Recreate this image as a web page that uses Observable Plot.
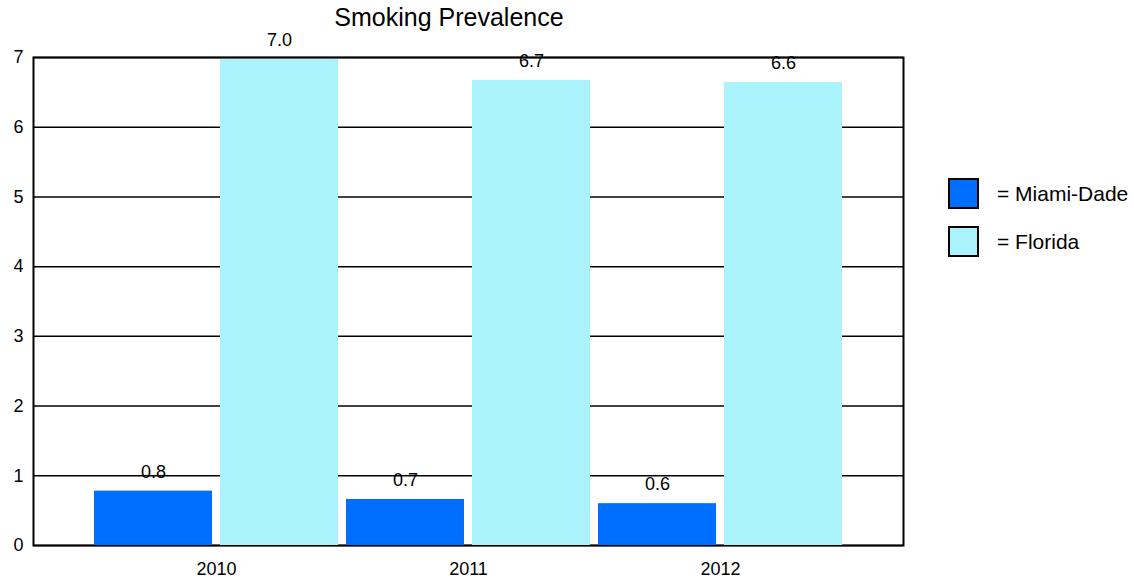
<!DOCTYPE html>
<html>
<head>
<meta charset="utf-8">
<script src="https://cdn.jsdelivr.net/npm/d3@7"></script>
<script src="https://cdn.jsdelivr.net/npm/@observablehq/plot@0.6"></script>
<style>
  html, body { margin: 0; padding: 0; background: #fff; }
  #wrap { position: relative; width: 1134px; height: 586px; font-family: "Liberation Sans", Arial, sans-serif; color: #000; }
  #title { position: absolute; left: 0; width: 898px; top: 2px; text-align: center; font-size: 25px; line-height: 30px; }
  #chart { position: absolute; left: 0; top: 0; }
  .leg { position: absolute; left: 948px; display: flex; align-items: center; font-size: 21px; }
  .sw { width: 27px; height: 27px; border: 2px solid #000; margin-right: 18px; }
</style>
</head>
<body>
<div id="wrap">
  <div id="chart"></div>
  <div id="title">Smoking Prevalence</div>
  <div class="leg" style="top:178px"><div class="sw" style="background:#006eff"></div>= Miami-Dade</div>
  <div class="leg" style="top:226px"><div class="sw" style="background:#aaf2fc"></div>= Florida</div>
</div>
<script>
const years = ["2010", "2011", "2012"];
const series = ["Miami-Dade", "Florida"];
const miamiDade = [0.78, 0.66, 0.60];
const florida = [6.97, 6.67, 6.64];
const yTicks = [0, 1, 2, 3, 4, 5, 6, 7];
const colors = ["#006eff", "#aaf2fc"];

const table = [];
years.forEach((yr, i) => {
  table.push({year: yr, series: "Miami-Dade", key: yr + " Miami-Dade", value: miamiDade[i]});
  table.push({year: yr, series: "Florida", key: yr + " Florida", value: florida[i]});
});
const keys = table.map(d => d.key);

const chart = Plot.plot({
  width: 1134,
  height: 586,
  marginLeft: 33,
  marginRight: 231,
  marginTop: 57,
  marginBottom: 41,
  style: {fontFamily: "'Liberation Sans', Arial, sans-serif", fontSize: "18px", color: "#000", background: "transparent"},
  x: {domain: keys, paddingInner: 0.0635, paddingOuter: 0.484, axis: null},
  y: {domain: [0, 7], axis: null},
  color: {domain: series, range: colors},
  marks: [
    Plot.ruleY(yTicks, {stroke: "#000", strokeWidth: 1.5}),
    Plot.frame({stroke: "#000", strokeWidth: 2}),
    Plot.barY(table, {x: "key", y: "value", fill: "series"}),
    Plot.text(table, {x: "key", y: "value", text: d => d.value.toFixed(1), dy: -19, fontSize: 18}),
    Plot.axisY({ticks: yTicks, tickFormat: d => String(d), label: null, tickSize: 0, tickPadding: 10, fontSize: 18}),
    Plot.text(years, {x: d => d + " Miami-Dade", frameAnchor: "bottom", dy: 29, dx: 63, text: d => d, fontSize: 18})
  ]
});
document.getElementById("chart").appendChild(chart);
</script>
</body>
</html>
